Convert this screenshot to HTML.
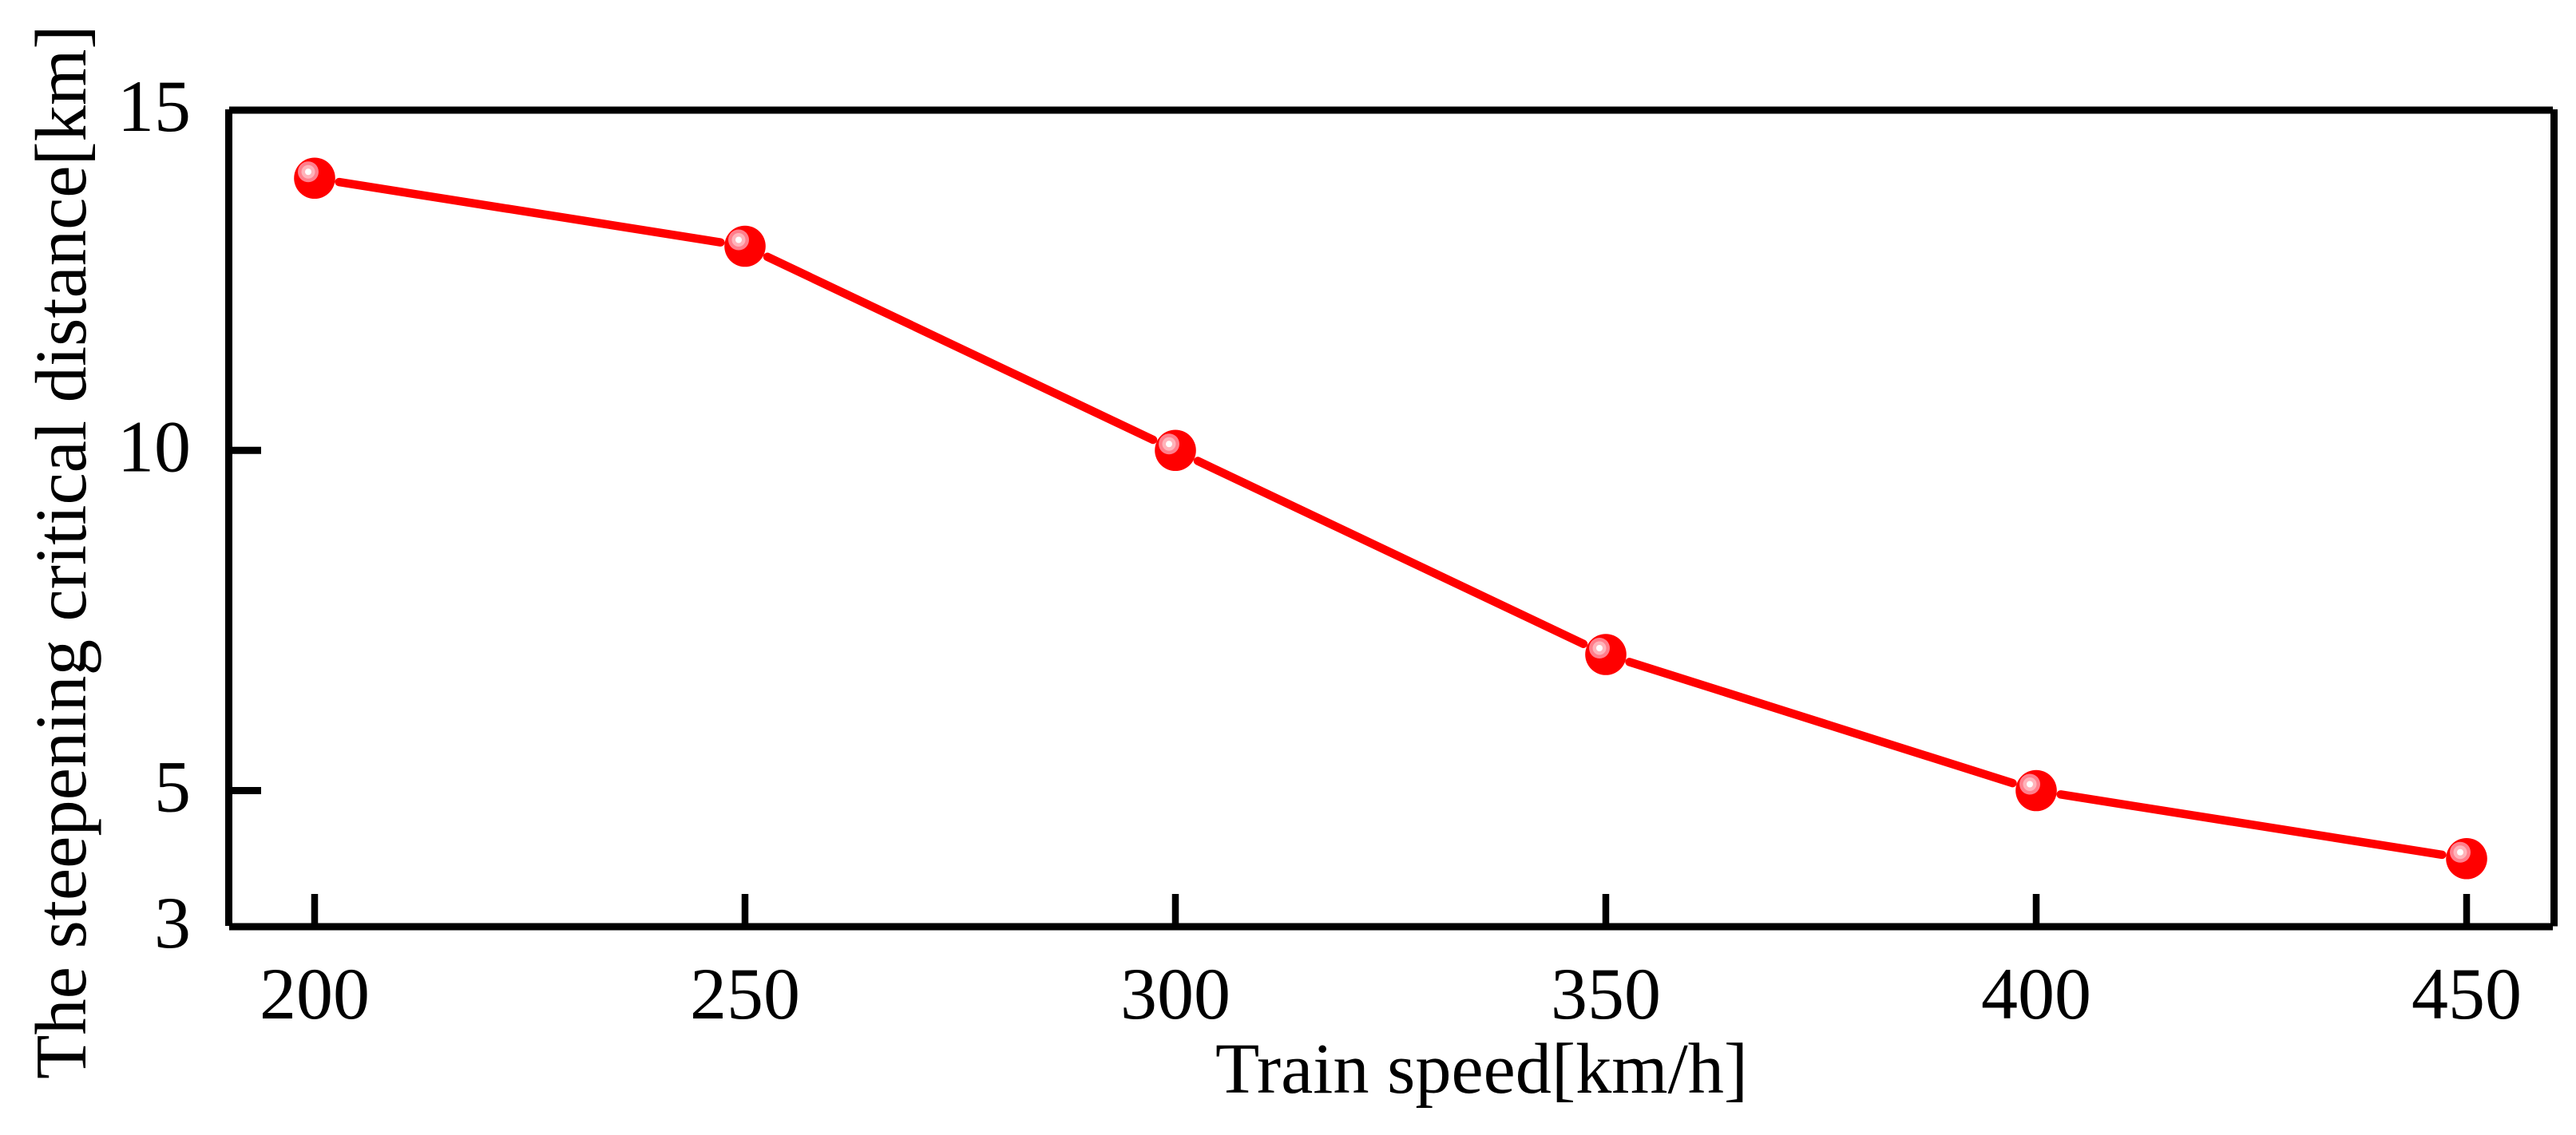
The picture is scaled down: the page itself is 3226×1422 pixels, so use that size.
<!DOCTYPE html>
<html>
<head>
<meta charset="utf-8">
<title>Train speed chart</title>
<style>
html,body{margin:0;padding:0;background:#fff;}
svg{display:block;}
text{font-family:"Liberation Serif","Times New Roman",serif;fill:#000;}
</style>
</head>
<body>
<svg id="chart" xmlns="http://www.w3.org/2000/svg" width="3226" height="1422" viewBox="0 0 3226 1422">
<g id="series"></g>
<g id="markers"></g>
<g id="axes"></g>
<text x="1522" y="1369" font-size="90.4">Train speed[km/h]</text>
<text transform="translate(107 1352) rotate(-90)" font-size="90.6">The steepening critical distance[km]</text>
</svg>
<script>
const speeds = [200, 250, 300, 350, 400, 450];
const distances = [14, 13, 10, 7, 5, 4];
const xTickLabels = [200, 250, 300, 350, 400, 450];
const yTickLabels = [15, 10, 5, 3];

const NS = 'http://www.w3.org/2000/svg';
function xScale(v) { return 394 + (v - 200) * (2695 / 250); }
function yScale(v) { return 1161 - (v - 3) * (1023 / 12); }
function make(tag, attrs, parent) {
  const el = document.createElementNS(NS, tag);
  for (const k in attrs) el.setAttribute(k, attrs[k]);
  parent.appendChild(el);
  return el;
}
const axes = document.getElementById('axes');
const series = document.getElementById('series');
const markers = document.getElementById('markers');

const spineDefs = [
  ['spine-top', 287, 138, 3197, 138, 9],
  ['spine-bottom', 287, 1161, 3197, 1161, 9],
  ['spine-left', 286.5, 137, 286.5, 1160, 9],
  ['spine-right', 3198.5, 137, 3198.5, 1160.5, 9]
];
spineDefs.forEach(function (s) {
  const ln = make('line', { x1: s[1], y1: s[2], x2: s[3], y2: s[4], stroke: '#000', 'stroke-width': s[5] }, axes);
  
  
});

xTickLabels.forEach(function (v) {
  const px = xScale(v);
  const tick = make('line', { x1: px, y1: 1120, x2: px, y2: 1160, stroke: '#000', 'stroke-width': 8.5 }, axes);
  
  
  const t = make('text', { x: px, y: 1276, 'font-size': 92, 'text-anchor': 'middle' }, axes);
  t.textContent = v;
  
  
});

yTickLabels.forEach(function (v) {
  const py = yScale(v);
  if (v !== 15 && v !== 3) {
    const tick = make('line', { x1: 290, y1: py, x2: 327, y2: py, stroke: '#000', 'stroke-width': 9 }, axes);
    
    
  }
  const t = make('text', { x: 239, y: py + 26, 'font-size': 92, 'text-anchor': 'end' }, axes);
  t.textContent = v;
  
  
});

const gap = 31;
for (let i = 0; i < speeds.length - 1; i++) {
  const x1 = xScale(speeds[i]), y1 = yScale(distances[i]);
  const x2 = xScale(speeds[i + 1]), y2 = yScale(distances[i + 1]);
  const len = Math.hypot(x2 - x1, y2 - y1);
  const ux = (x2 - x1) / len, uy = (y2 - y1) / len;
  const seg = make('line', {
    x1: x1 + ux * gap, y1: y1 + uy * gap, x2: x2 - ux * gap, y2: y2 - uy * gap,
    stroke: '#ff0000', 'stroke-width': 10.5, 'stroke-linecap': 'round'
  }, series);
  
  
}

speeds.forEach(function (v, i) {
  const cx = xScale(v), cy = yScale(distances[i]);
  const g = make('g', {}, markers);
  
  
  make('circle', { cx: cx, cy: cy, r: 25.8, fill: '#ff0000' }, g);
  make('circle', { cx: cx - 8, cy: cy - 8, r: 13, fill: '#ff7f8c' }, g);
  make('circle', { cx: cx - 8, cy: cy - 8, r: 8.5, fill: '#ffb3ba' }, g);
  make('circle', { cx: cx - 8, cy: cy - 8, r: 4, fill: '#ffffff' }, g);
});
</script>
</body>
</html>
